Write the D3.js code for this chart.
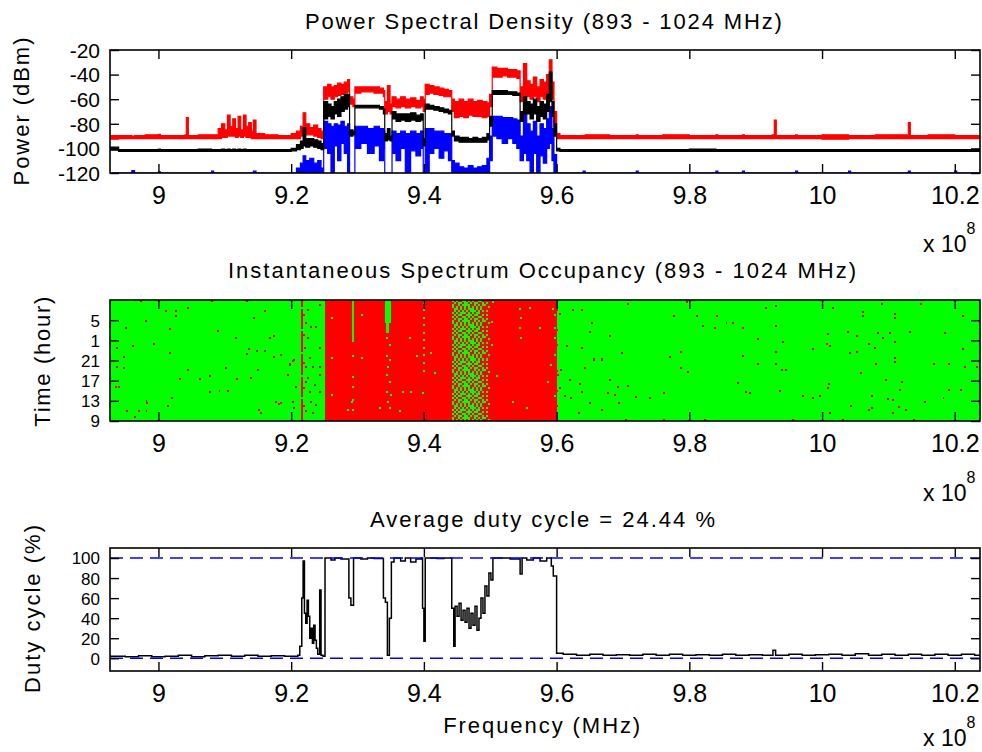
<!DOCTYPE html>
<html>
<head>
<meta charset="utf-8">
<script src="https://cdn.jsdelivr.net/npm/d3@7"></script>
<style>
  html, body { margin: 0; padding: 0; background: #ffffff; }
  svg { display: block; }
  text { font-family: "Liberation Sans", Arial, Helvetica, sans-serif; fill: #000; }
</style>
</head>
<body>
<svg id="chart" width="982" height="752"></svg>
<script>
// ---------------- DATA ----------------
// Axis ticks (frequency in MHz, shown as x 10^8 Hz)
const xTickValues = [900, 920, 940, 960, 980, 1000, 1020];
const xTickLabels = ["9", "9.2", "9.4", "9.6", "9.8", "10", "10.2"];
const psdTickValues = [-120, -100, -80, -60, -40, -20];
const psdTickLabels = ["-120", "-100", "-80", "-60", "-40", "-20"];
const timeTickValues = [9, 13, 17, 21, 25, 29];
const timeTickLabels = ["9", "13", "17", "21", "1", "5"];
const dutyTickValues = [0, 20, 40, 60, 80, 100];
const dutyTickLabels = ["0", "20", "40", "60", "80", "100"];

// Power spectral density: apparent bands of the max (red), mean (black), min (blue) traces (dBm)
const psdFreq = [892.7,894,896,896.4,898,900,900.3,902,904,904.2,904.5,906,908,908.3,909,909.5,910,910.4,910.8,911.2,911.6,912,912.4,912.8,913.2,913.6,914,914.3,914.7,916,918,920,920.8,921.4,921.8,922.2,922.8,923.4,924,924.5,924.9,925.5,926,926.5,927,927.5,928,928.5,928.8,929.3,929.6,930.5,931.5,932.5,933.3,933.9,934.1,934.5,934.9,935.2,935.8,936.5,937.2,938,938.8,939.5,939.9,940.2,940.8,941.5,942.3,943,943.7,944.2,944.6,945.3,946,946.7,947.4,948.1,948.8,949.5,949.9,950.3,951,951.8,952.6,953.4,954,954.5,955,955.5,956,956.5,957,957.5,958,958.5,958.9,959.3,959.6,960,960.5,964,964.3,968,972,972.3,976,980,984,984.3,988,988.3,992.5,992.8,993.1,996,996.3,1000,1004,1004.3,1008,1012.8,1013,1013.3,1016,1020,1020.3,1023.8];
const maxPowerHi = [-89.5,-89.5,-90,-89.5,-89,-88.5,-89.5,-89.5,-89,-75,-89.5,-89,-89,-89,-84,-80,-85,-73,-82,-76,-84,-74,-85,-73,-82,-79,-86,-77,-88,-89,-89.5,-88,-86,-82,-71,-80,-83,-81,-84,-86,-50,-48,-50,-49,-47,-48,-46,-44,-58,-60,-50,-50,-50,-50,-51,-53,-62,-49,-64,-58,-60,-58,-60,-59,-61,-58,-60,-48,-49,-50,-51,-52,-53,-60,-62,-60,-62,-60,-62,-61,-62,-63,-56,-34,-35,-35,-36,-36,-37,-50,-31,-45,-48,-42,-50,-44,-46,-40,-28,-46,-70,-88,-89.5,-89.5,-89,-89.5,-89,-89.5,-89,-89.5,-89,-89.5,-89,-89.5,-89,-77,-89.5,-89,-89.5,-89,-89.5,-89.5,-89,-89.5,-79,-89.5,-89,-89.5,-89.5,-89.5];
const maxPowerLo = [-92.5,-92,-92,-92,-92,-92,-92,-92,-92,-92,-92,-92,-92,-92,-92,-91,-91,-90,-90,-90,-91,-90,-91,-90,-91,-91,-92,-92,-92,-92,-92,-92,-92,-90,-88,-89,-89,-90,-91,-92,-60,-58,-60,-58,-57,-56,-55,-54,-64,-66,-55,-54,-54,-55,-55,-58,-72,-70,-72,-66,-67,-66,-67,-66,-67,-66,-70,-56,-55,-56,-57,-58,-58,-70,-75,-74,-75,-73,-74,-74,-75,-74,-66,-42,-42,-41,-42,-42,-43,-62,-58,-58,-60,-58,-62,-58,-60,-56,-50,-60,-82,-92,-92,-92,-92,-92,-92,-92,-92,-92,-92,-92,-92,-92,-92,-92,-92,-92,-92,-92.5,-92,-92,-92,-92,-92,-92,-92,-92,-92,-92];
const meanPowerHi = [-99,-101,-101,-101,-101,-100.5,-101,-101,-101,-101,-101,-100.5,-101,-101,-101,-100.5,-101,-100.5,-101,-100.5,-101,-100.5,-101,-100.5,-101,-101,-101,-101,-101,-101,-101,-100,-97,-94,-83,-92,-92,-93,-94,-96,-62,-64,-66,-62,-60,-58,-56,-56,-85,-86,-65,-65,-65,-65,-66,-68,-88,-84,-90,-70,-72,-72,-72,-71,-73,-72,-92,-64,-65,-66,-67,-68,-69,-86,-90,-91,-91,-92,-91,-92,-91,-88,-74,-53,-53,-53,-54,-54,-55,-70,-58,-62,-64,-60,-66,-62,-64,-56,-38,-62,-80,-100,-101,-101,-101,-101,-101,-101,-101,-100.5,-101,-101,-101,-101,-101,-101,-101,-101,-101,-101,-101,-101,-101,-101,-101,-101,-101,-101,-101,-101,-101];
const meanPowerLo = [-101.5,-102.5,-102.5,-102.5,-102.5,-102.5,-102.5,-102.5,-102.5,-102.5,-102.5,-102.5,-102.5,-102.5,-102.5,-102.5,-102.5,-102.5,-102.5,-102.5,-102.5,-102.5,-102.5,-102.5,-102.5,-102.5,-102.5,-102.5,-102.5,-102.5,-102.5,-102,-101,-100,-98,-99,-98,-99,-100,-101,-76,-74,-76,-72,-74,-70,-68,-66,-90,-89,-67,-67,-67,-67,-68,-72,-94,-93,-94,-76,-78,-77,-78,-77,-78,-77,-98,-68,-68,-69,-70,-71,-72,-90,-94,-95,-95,-95,-95,-95,-95,-93,-82,-56,-56,-56,-56,-57,-57,-78,-72,-72,-76,-72,-78,-74,-76,-70,-62,-74,-90,-102,-102.5,-102.5,-102.5,-102.5,-102.5,-102.5,-102.5,-102.5,-102.5,-102.5,-102.5,-102.5,-102.5,-102.5,-102.5,-102.5,-102.5,-102.5,-102.5,-102.5,-102.5,-102.5,-102.5,-102.5,-102.5,-102.5,-102.5,-102.5,-102.5];
const minPowerHi = [-120,-120,-118,-120,-120,-119,-120,-120,-120,-120,-120,-120,-118.5,-120,-120,-120,-120,-120,-120,-120,-120,-120,-120,-120,-120,-120,-120,-118.5,-120,-120,-120,-120,-116,-112,-106,-110,-108,-112,-110,-116,-78,-80,-82,-80,-81,-78,-82,-80,-120,-120,-82,-82,-84,-82,-84,-86,-120,-120,-120,-86,-88,-86,-88,-86,-88,-86,-120,-84,-84,-86,-86,-88,-88,-110,-112,-115,-116,-114,-116,-115,-114,-108,-90,-74,-74,-75,-75,-76,-77,-90,-72,-80,-86,-78,-90,-80,-84,-76,-66,-84,-105,-120,-120,-118.5,-120,-120,-118.5,-120,-120,-120,-118.5,-120,-118.5,-120,-120,-120,-120,-118.5,-120,-120,-118.5,-120,-120,-120,-118.5,-120,-120,-118.5,-120,-120];
const minPowerLo = [-120,-120,-120,-120,-120,-120,-120,-120,-120,-120,-120,-120,-120,-120,-120,-120,-120,-120,-120,-120,-120,-120,-120,-120,-120,-120,-120,-120,-120,-120,-120,-120,-120,-120,-120,-120,-120,-120,-120,-120,-100,-104,-120,-98,-110,-96,-104,-120,-120,-120,-100,-96,-104,-98,-110,-100,-120,-120,-120,-104,-110,-100,-120,-102,-106,-100,-120,-120,-104,-100,-108,-102,-110,-120,-120,-120,-120,-120,-120,-120,-120,-120,-110,-90,-92,-96,-92,-96,-100,-110,-104,-110,-120,-104,-120,-106,-112,-100,-96,-110,-120,-120,-120,-120,-120,-120,-120,-120,-120,-120,-120,-120,-120,-120,-120,-120,-120,-120,-120,-120,-120,-120,-120,-120,-120,-120,-120,-120,-120,-120];

// Spectrum occupancy bands (MHz) and their state
const occBandStart = [892.7, 921.5, 921.8, 925.1, 944.3, 949.8, 960.0];
const occBandEnd   = [921.5, 921.8, 925.1, 944.3, 949.8, 960.0, 1023.8];
const occBandState = ["free", "busy", "free", "busy", "mixed", "busy", "free"];
// Free (green) streaks inside busy bands: [MHz start, MHz end, hour start, hour end]
const occFreeStreaks = [[929.1, 929.5, 24.6, 33], [934.2, 935.0, 28.5, 33], [934.3, 934.7, 26.5, 28.5]];
// Isolated free (green) cells inside busy bands: [MHz, hour]
const occFreeDots = [[926.1,29.4],[926.1,21.4],[926.1,14.2],[930.6,30.0],[930.6,21.4],[929.1,12.8],[928.6,11.2],[929.3,21.8],[929.3,17.8],[929.3,15.8],[929.3,13.2],[929.3,11.2],[934.4,25.4],[934.9,24.1],[934.4,21.8],[934.9,21.1],[934.6,19.8],[934.4,18.1],[934.9,16.8],[934.4,14.8],[935.1,14.2],[934.6,12.8],[934.9,11.5],[940.0,32.5],[940.0,31.0],[940.0,29.5],[940.0,28.0],[940.0,26.5],[940.0,25.0],[940.0,23.5],[940.0,22.0],[940.0,20.5],[940.0,19.0],[939.8,14.5],[937.9,25.4],[938.9,21.8],[941.1,22.4],[941.6,18.5],[936.9,14.8],[938.1,14.8],[933.4,11.5],[936.4,10.9],[954.5,31.3],[954.7,29.4],[954.5,27.4],[954.7,25.4],[957.5,27.4],[959.5,31.3],[959.7,27.4],[959.7,25.4],[959.2,20.1],[958.7,16.8],[955.5,11.5],[953.5,12.8],[950.4,32.7],[950.2,28.7],[950.3,24.0],[951.0,18.0],[959.8,30.0],[959.8,22.0],[959.8,14.0],[956.0,31.5],
  [921.65,31.5],[921.65,27.0],[921.65,22.5],[921.65,18.0],[921.65,13.5]];
// Isolated busy (red) cells inside free bands: [MHz, hour]
const occBusyDots = [[897.3,32.9],[908.0,32.9],[913.3,32.9],[901.1,30.8],[902.6,30.8],[904.5,31.5],[916.0,30.8],[902.6,29.8],[898.1,28.8],[895.1,27.5],[909.0,26.8],[901.7,27.2],[914.4,29.5],[911.7,25.5],[916.8,25.5],[917.4,25.9],[896.1,23.9],[899.3,24.3],[893.8,23.5],[913.7,23.2],[914.8,22.9],[916.0,22.9],[913.4,22.2],[901.7,22.4],[894.8,21.6],[893.7,19.7],[894.8,19.6],[904.5,19.2],[910.2,19.6],[914.0,17.6],[915.0,19.2],[917.4,21.6],[919.8,20.2],[920.3,20.9],[906.2,17.3],[907.7,17.9],[903.2,17.3],[911.9,17.3],[893.6,15.7],[894.1,15.7],[909.2,14.9],[910.5,14.9],[907.7,14.8],[902.0,13.6],[898.2,13.0],[898.3,12.5],[901.4,12.0],[917.7,12.8],[918.2,12.3],[895.3,10.9],[897.1,10.9],[898.2,10.9],[915.2,11.1],[915.4,10.5],[896.4,9.8],
  [922.55,31.0],[923.05,27.7],[922.55,25.4],[923.8,27.7],[924.3,32.0],[922.8,21.4],[922.3,19.8],[923.3,19.8],[924.3,19.8],[922.55,17.5],[923.6,16.1],[922.8,14.8],[924.3,14.8],[923.05,12.8],[923.8,12.2],[922.3,10.9],[923.3,10.5],[924.3,18.1],[922.05,23.4],[924.3,23.4],[918.5,22.1],[919.8,20.4],[920.5,21.1],[919.5,18.1],[920.8,15.8],[918.5,12.5],[920.3,12.8],[920.5,11.5],
  [922.0,30.0],[922.0,26.0],[922.0,20.6],[922.0,15.5],[922.0,12.0],[922.3,28.5],[922.3,16.8],
  [962.4,31.1],[963.8,31.1],[960.5,30.3],[970.8,32.3],[979.6,32.7],[977.7,29.8],[981.1,29.8],[984.1,29.8],[982.0,27.8],[983.9,27.5],[985.6,28.4],[986.6,28.4],[988.1,27.5],[991.6,31.5],[993.1,31.8],[993.1,27.8],[965.4,28.4],[965.0,26.7],[968.0,25.9],[961.5,23.9],[963.9,23.5],[990.4,25.2],[994.1,24.7],[1001.6,31.5],[1006.1,30.7],[1006.1,29.8],[1009.1,32.3],[1011.0,30.2],[1011.0,29.5],[1014.9,32.3],[1021.2,29.8],[1000.9,26.2],[1003.9,26.7],[1005.2,25.9],[1008.5,26.4],[1010.2,26.4],[1013.3,26.7],[1009.2,25.5],[1011.0,24.7],[1007.0,24.2],[1008.0,23.5],[1018.5,26.4],[1021.3,23.2],[1023.3,19.8],[1000.7,24.2],[1001.2,23.9],[998.6,23.2],[1004.2,22.4],[1005.2,22.7],[1011.0,21.4],[1011.0,20.8],[1016.8,20.4],[1019.2,20.4],[1008.2,20.4],[993.1,22.7],[993.1,20.4],[990.4,20.4],[993.9,19.2],[994.6,19.2],[988.1,21.9],[978.8,22.7],[977.1,21.6],[979.8,18.8],[978.7,19.6],[969.9,22.4],[965.7,21.2],[966.9,21.2],[964.3,19.6],[960.7,19.2],[962.0,17.1],[963.5,16.3],[961.2,14.0],[962.2,13.5],[968.0,17.1],[969.3,15.8],[968.8,14.2],[970.8,15.9],[967.8,14.5],[972.0,13.8],[974.1,13.6],[976.2,14.5],[987.4,16.5],[988.5,14.8],[989.1,14.5],[993.7,14.9],[997.1,14.0],[998.6,13.6],[999.7,14.0],[1001.1,16.3],[1000.9,15.6],[1005.9,18.5],[1007.6,14.0],[1009.7,17.1],[1010.0,13.3],[1010.7,13.2],[1011.6,11.8],[1012.1,16.8],[1011.8,15.1],[1012.6,11.2],[1015.5,12.8],[1018.3,13.6],[1019.2,15.1],[1021.0,15.1],[1021.5,19.8],[1004.4,11.9],[1007.0,11.2],[1007.6,11.5],[1010.7,10.5],[1001.2,10.5],[1013.8,9.2],[1003.1,9.2],[995.6,9.2],[982.3,9.2],[976.2,9.2],[970.5,9.2],[963.3,10.5],[966.8,11.2],[969.4,12.5],[965.0,12.5],[963.8,14.8],[960.5,15.5],[960.2,18.1],
  [960.1,31.0],[960.1,27.0],[960.1,24.0],[960.1,19.0],[960.1,15.0],[960.1,12.0]];

// Duty cycle (%) vs frequency (MHz)
const dcFreq = [892.7,895,897,899,901,903,905,907,909,911,913,915,917,919,921,921.3,921.6,921.8,922.0,922.2,922.4,922.6,922.8,923.0,923.2,923.4,923.6,923.8,924.0,924.3,924.5,924.8,925.1,926,926.6,927.5,928.7,929.0,929.4,930.5,931.5,932.5,933.9,934.2,934.5,934.8,935.1,935.5,936.5,937.2,938,938.8,939.6,939.8,940.0,940.2,941,942,943,944.2,944.5,944.7,945.0,945.3,945.6,945.9,946.2,946.5,946.8,947.1,947.4,947.7,948.0,948.3,948.6,948.9,949.2,949.5,949.8,950.1,950.4,951.5,953,954.5,954.8,955.5,956.5,957.5,958.5,959.2,959.5,960.0,961,963,965,967,969,971,973,975,977,979,981,983,985,987,989,991,992.6,993,995,997,999,1001,1003,1005,1007,1009,1011,1013,1015,1017,1019,1021,1023,1023.8];
const dcPercent = [2,1.5,2.5,1.5,2,3,1.5,2.5,3,2,3,2,2.5,2,3,12,60,97,45,35,58,42,20,30,15,33,18,10,4,68,3,2,100,98,100,99,60,53,100,99,100,99.5,60,56,3,40,96,100,97,100,96,99,100,50,17,100,100,99.5,100,50,12,52,42,55,38,48,36,50,30,45,33,52,28,40,60,45,72,62,85,78,100,100,99,84,100,98,100,97,100,92,82,5,4,3,4,3,3.5,3,4,3,4,3,3.5,3,4,3,3.5,3,8,3,4,3,3.5,4,3,4.5,3,4,3,4,3,4,3,4,3,3];
const dcReferenceLevels = [0, 100];
const averageDuty = 24.44;

// Fixed threshold table used to texture the partially-occupied band
const ditherTable = [[34,12,58,3,45,21,60,9],[50,27,6,40,15,53,31,42],[2,62,19,36,57,0,24,47],[44,16,52,29,11,38,63,14],[23,55,8,61,33,18,5,51],[37,1,41,26,48,59,30,20],[13,46,22,54,4,35,10,56],[28,39,32,7,43,25,49,17]];

// ---------------- LAYOUT ----------------
const svg = d3.select("#chart");
const L = 110, R = 980;
const P1 = {top: 50, bottom: 173};
const P2 = {top: 300, bottom: 421};
const P3 = {top: 548, bottom: 671};
const RED = "#ff0000", GREEN = "#00ff00", BLUE = "#0000ff";

const x = d3.scaleLinear().domain([892.7, 1023.8]).range([L, R]);
const yP = d3.scaleLinear().domain([-120, -20]).range([P1.bottom, P1.top]);
const yT = d3.scaleLinear().domain([9, 33]).range([P2.bottom, P2.top]);
const yD = d3.scaleLinear().domain([-12.7, 110]).range([P3.bottom, P3.top]);

svg.append("rect").attr("width", 982).attr("height", 752).attr("fill", "#fff");

const defs = svg.append("defs");
function clip(id, P) {
  defs.append("clipPath").attr("id", id).append("rect")
    .attr("x", L).attr("y", P.top).attr("width", R - L).attr("height", P.bottom - P.top);
}
clip("c1", P1); clip("c2", P2); clip("c3", P3);

function axes(P, y, tv, tl, yFont, expBase) {
  const g = svg.append("g");
  const xb = g.append("g").attr("transform", `translate(0,${P.bottom})`)
    .call(d3.axisBottom(x).tickValues(xTickValues).tickSize(-9).tickFormat((d, i) => xTickLabels[i]));
  xb.selectAll("text").attr("y", 31).attr("dy", null).attr("font-size", 25)
    .attr("font-family", '"Liberation Sans", Arial, sans-serif');
  g.append("g").attr("transform", `translate(0,${P.top})`)
    .call(d3.axisTop(x).tickValues(xTickValues).tickSize(-9).tickFormat(""));
  const yl = g.append("g").attr("transform", `translate(${L},0)`)
    .call(d3.axisLeft(y).tickValues(tv).tickSize(-9).tickPadding(10).tickFormat((d, i) => tl[i]));
  yl.selectAll("text").attr("font-size", yFont).attr("dy", "0.35em")
    .attr("font-family", '"Liberation Sans", Arial, sans-serif');
  g.append("g").attr("transform", `translate(${R},0)`)
    .call(d3.axisRight(y).tickValues(tv).tickSize(-9).tickFormat(""));
  g.selectAll(".domain").remove();
  g.selectAll(".tick line").attr("stroke", "#000").attr("stroke-width", 1.4);
  g.append("rect").attr("x", L).attr("y", P.top).attr("width", R - L).attr("height", P.bottom - P.top)
    .attr("fill", "none").attr("stroke", "#000").attr("stroke-width", 1.6);
  // exponent label
  const ex = g.append("text").attr("x", 923).attr("y", expBase).attr("font-size", 23);
  ex.append("tspan").text("x 10");
  ex.append("tspan").attr("font-size", 16).attr("dy", -18).text("8");
}

function title(txt, cx, by, len) {
  svg.append("text").attr("x", cx).attr("y", by).attr("text-anchor", "middle")
    .attr("font-size", 22).attr("textLength", len).attr("lengthAdjust", "spacing").text(txt);
}
function ylabel(txt, bx, cy, len) {
  svg.append("text").attr("transform", `translate(${bx},${cy}) rotate(-90)`).attr("text-anchor", "middle")
    .attr("font-size", 22).attr("textLength", len).attr("lengthAdjust", "spacing").text(txt);
}

// ---------------- PANEL 1: PSD ----------------
const g1 = svg.append("g").attr("clip-path", "url(#c1)");
function band(hi, lo) {
  return d3.area().curve(d3.curveStepAfter)
    .x((d, i) => x(psdFreq[i])).y0((d, i) => yP(lo[i])).y1((d, i) => yP(hi[i]));
}
const series = [
  {hi: maxPowerHi, lo: maxPowerLo, c: RED},
  {hi: minPowerHi, lo: minPowerLo, c: BLUE},
  {hi: meanPowerHi, lo: meanPowerLo, c: "#000"}
];
series.forEach(s => {
  g1.append("path").datum(psdFreq).attr("d", band(s.hi, s.lo)(psdFreq))
    .attr("fill", s.c).attr("stroke", s.c).attr("stroke-width", 1.2).attr("stroke-linejoin", "miter");
});
axes(P1, yP, psdTickValues, psdTickLabels, 21, 252);
title("Power Spectral Density (893 - 1024 MHz)", 543.4, 29, 477);
ylabel("Power (dBm)", 29, 111.5, 148);

// ---------------- PANEL 2: OCCUPANCY ----------------
const g2 = svg.append("g").attr("clip-path", "url(#c2)").attr("shape-rendering", "crispEdges");
occBandStart.forEach((s, i) => {
  g2.append("rect").attr("x", x(s)).attr("width", x(occBandEnd[i]) - x(s))
    .attr("y", P2.top).attr("height", P2.bottom - P2.top)
    .attr("fill", occBandState[i] === "free" ? GREEN : RED);
});
function dcAt(f) {
  const i = Math.max(0, d3.bisectRight(dcFreq, f) - 1);
  return dcPercent[i];
}
const cellF = 0.3, cellH = 0.4;
occBandState.forEach((st, i) => {
  if (st !== "mixed") return;
  const cells = [];
  for (let c = 0; occBandStart[i] + c * cellF < occBandEnd[i] - 1e-9; c++) {
    const f = occBandStart[i] + c * cellF;
    const dc = dcAt(f + cellF / 2);
    for (let r = 0; r < 60; r++) {
      if (ditherTable[r % 8][c % 8] / 64 >= dc / 100) cells.push([f, 9 + r * cellH]);
    }
  }
  g2.selectAll(null).data(cells).enter().append("rect")
    .attr("x", d => x(d[0])).attr("width", d => x(d[0] + cellF) - x(d[0]))
    .attr("y", d => yT(d[1] + cellH)).attr("height", d => yT(d[1]) - yT(d[1] + cellH))
    .attr("fill", GREEN);
});
g2.selectAll(null).data(occFreeStreaks).enter().append("rect")
  .attr("x", d => x(d[0])).attr("width", d => x(d[1]) - x(d[0]))
  .attr("y", d => yT(d[3])).attr("height", d => yT(d[2]) - yT(d[3])).attr("fill", GREEN);
function dots(data, color) {
  g2.selectAll(null).data(data).enter().append("rect")
    .attr("x", d => x(d[0] - cellF / 2)).attr("width", d => x(d[0] + cellF / 2) - x(d[0] - cellF / 2))
    .attr("y", d => yT(d[1] + cellH / 2)).attr("height", d => yT(d[1] - cellH / 2) - yT(d[1] + cellH / 2))
    .attr("fill", color);
}
dots(occFreeDots, GREEN);
dots(occBusyDots, RED);
axes(P2, yT, timeTickValues, timeTickLabels, 17, 501);
title("Instantaneous Spectrum Occupancy (893 - 1024 MHz)", 542, 278, 628);
ylabel("Time (hour)", 50, 361.7, 130);

// ---------------- PANEL 3: DUTY CYCLE ----------------
const g3 = svg.append("g").attr("clip-path", "url(#c3)");
g3.append("path").datum(dcPercent)
  .attr("d", d3.line().curve(d3.curveStepAfter).x((d, i) => x(dcFreq[i])).y(d => yD(d))(dcPercent))
  .attr("fill", "none").attr("stroke", "#000").attr("stroke-width", 1.5);
g3.selectAll(null).data(dcReferenceLevels).enter().append("line")
  .attr("x1", x(892.7)).attr("x2", x(1023.8)).attr("y1", d => yD(d)).attr("y2", d => yD(d))
  .attr("stroke", BLUE).attr("stroke-width", 1.6).attr("stroke-dasharray", "13,7");
axes(P3, yD, dutyTickValues, dutyTickLabels, 17, 746);
title(`Average duty cycle = ${averageDuty.toFixed(2)} %`, 542.5, 527, 345);
ylabel("Duty cycle (%)", 40, 609, 168);
svg.append("text").attr("x", 541.7).attr("y", 733).attr("text-anchor", "middle")
  .attr("font-size", 22).attr("textLength", 197).attr("lengthAdjust", "spacing").text("Frequency (MHz)");
</script>
</body>
</html>
